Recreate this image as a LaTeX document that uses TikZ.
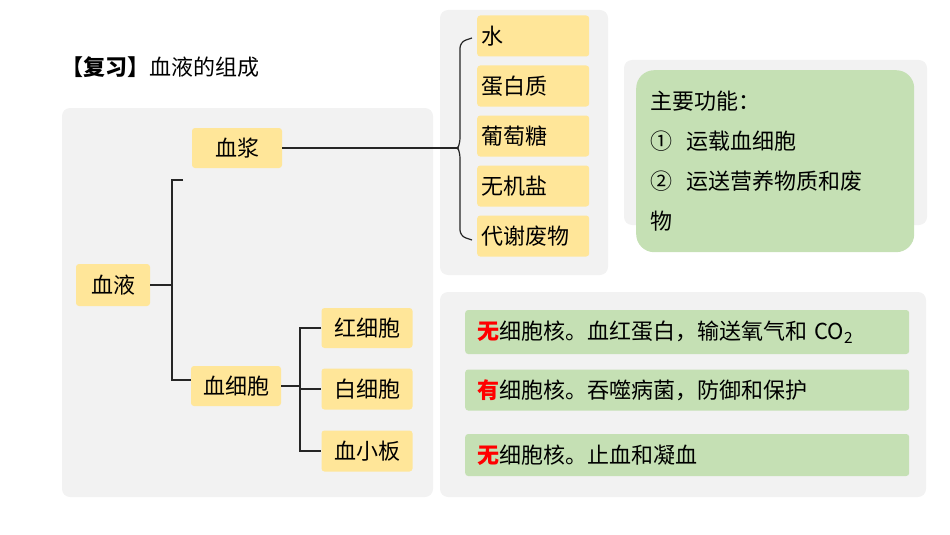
\documentclass[tikz,border=0pt]{standalone}
\usepackage{fontspec}
\setmainfont{Noto Sans CJK SC}
\usetikzlibrary{positioning}
\definecolor{panelgray}{HTML}{F2F2F2}
\definecolor{itemyellow}{HTML}{FFE699}
\definecolor{fungreen}{HTML}{C5E0B4}
\definecolor{keyred}{HTML}{FF0000}
\tikzset{
  panel/.style = {fill=panelgray, draw=none, rounded corners=8pt},
  item/.style = {fill=itemyellow, draw=none, rounded corners=3pt,
    inner sep=0pt, font=\fontsize{22}{26}\selectfont},% yellow term box
  bar/.style = {fill=fungreen, draw=none, rounded corners=3pt,
    inner sep=0pt, anchor=west, text width=430pt, align=left,
    font=\fontsize{22}{26}\selectfont},% green note bar
  link/.style = {draw=black!85, line width=1.2pt}
}
\newcommand{\key}[1]{\textcolor{keyred}{\textbf{#1}}}
\begin{document}
\begin{tikzpicture}[x=1pt,y=-1pt]
\useasboundingbox (0,0) rectangle (950,535);
% panels
\fill[panel] (62,108) rectangle (433,497);
\fill[panel] (440,10) rectangle (608,275);
\fill[panel] (624,60) rectangle (927,225);
\fill[panel] (440,292) rectangle (926,497);
\node[anchor=west, font=\fontsize{22}{26}\selectfont] (title) at (58,67) {\textbf{【复习】}血液的组成};
% left tree
\node[item, minimum width=74pt, minimum height=42pt] (blood) at (113,285) {血液};
\node[item, minimum width=90pt, minimum height=40pt] (plasma) at (237,148) {血浆};
\node[item, minimum width=90pt, minimum height=40pt] (cells) at (236,386) {血细胞};
\node[item, minimum width=91pt, minimum height=40pt] (rbc) at (367,328) {红细胞};
\node[item, minimum width=91pt, minimum height=41pt] (wbc) at (367,389) {白细胞};
\node[item, minimum width=91pt, minimum height=41pt] (plt) at (367,451) {血小板};
\coordinate (forkA) at (172,285);
\draw[link] (blood.east) -- (forkA);
\draw[link] (183,180) -- (172,180) -- (172,380) -- (cells.west |- 0,380);
\coordinate (forkB) at (300,386);
\draw[link] (cells.east) -- (forkB);
\draw[link] (rbc.west) -- (300,328) -- (300,451) -- (plt.west);
\draw[link] (300,389) -- (wbc.west);
% plasma contents
\coordinate (tip) at (458,148);
\draw[link] (plasma.east) -- (tip);
\draw[link, rounded corners=6pt] (472,38) -- (460,42) -- (460,144) -- (tip);
\draw[link, rounded corners=6pt] (tip) -- (460,152) -- (460,236) -- (472,240);
\foreach \txt [count=\i] in {水,蛋白质,葡萄糖,无机盐,代谢废物}
  \node[item, anchor=west, minimum width=112pt, minimum height=41pt, text width=104pt, align=left]
    (part\i) at (477,{-14+50*\i}) {\txt};
% function box
\node[fill=fungreen, rounded corners=18pt, minimum width=277pt, minimum height=182pt,
  text width=250pt, align=left, anchor=north west, inner xsep=14pt, inner ysep=20pt,
  font=\fontsize{22}{40}\selectfont] (func) at (636,70)
  {主要功能：\\① \ 运载血细胞\\② \ 运送营养物质和废\\物};
% notes
\node[bar, minimum width=444pt, minimum height=44pt, text width=436pt] (noteR) at (465,332)
  {\hspace{8pt}\key{无}细胞核。血红蛋白，输送氧气和 CO\textsubscript{2}};
\node[bar, minimum width=444pt, minimum height=41pt, text width=436pt] (noteW) at (465,390)
  {\hspace{8pt}\key{有}细胞核。吞噬病菌，防御和保护};
\node[bar, minimum width=444pt, minimum height=42pt, text width=436pt] (noteP) at (465,455)
  {\hspace{8pt}\key{无}细胞核。止血和凝血};
\end{tikzpicture}
\end{document}
